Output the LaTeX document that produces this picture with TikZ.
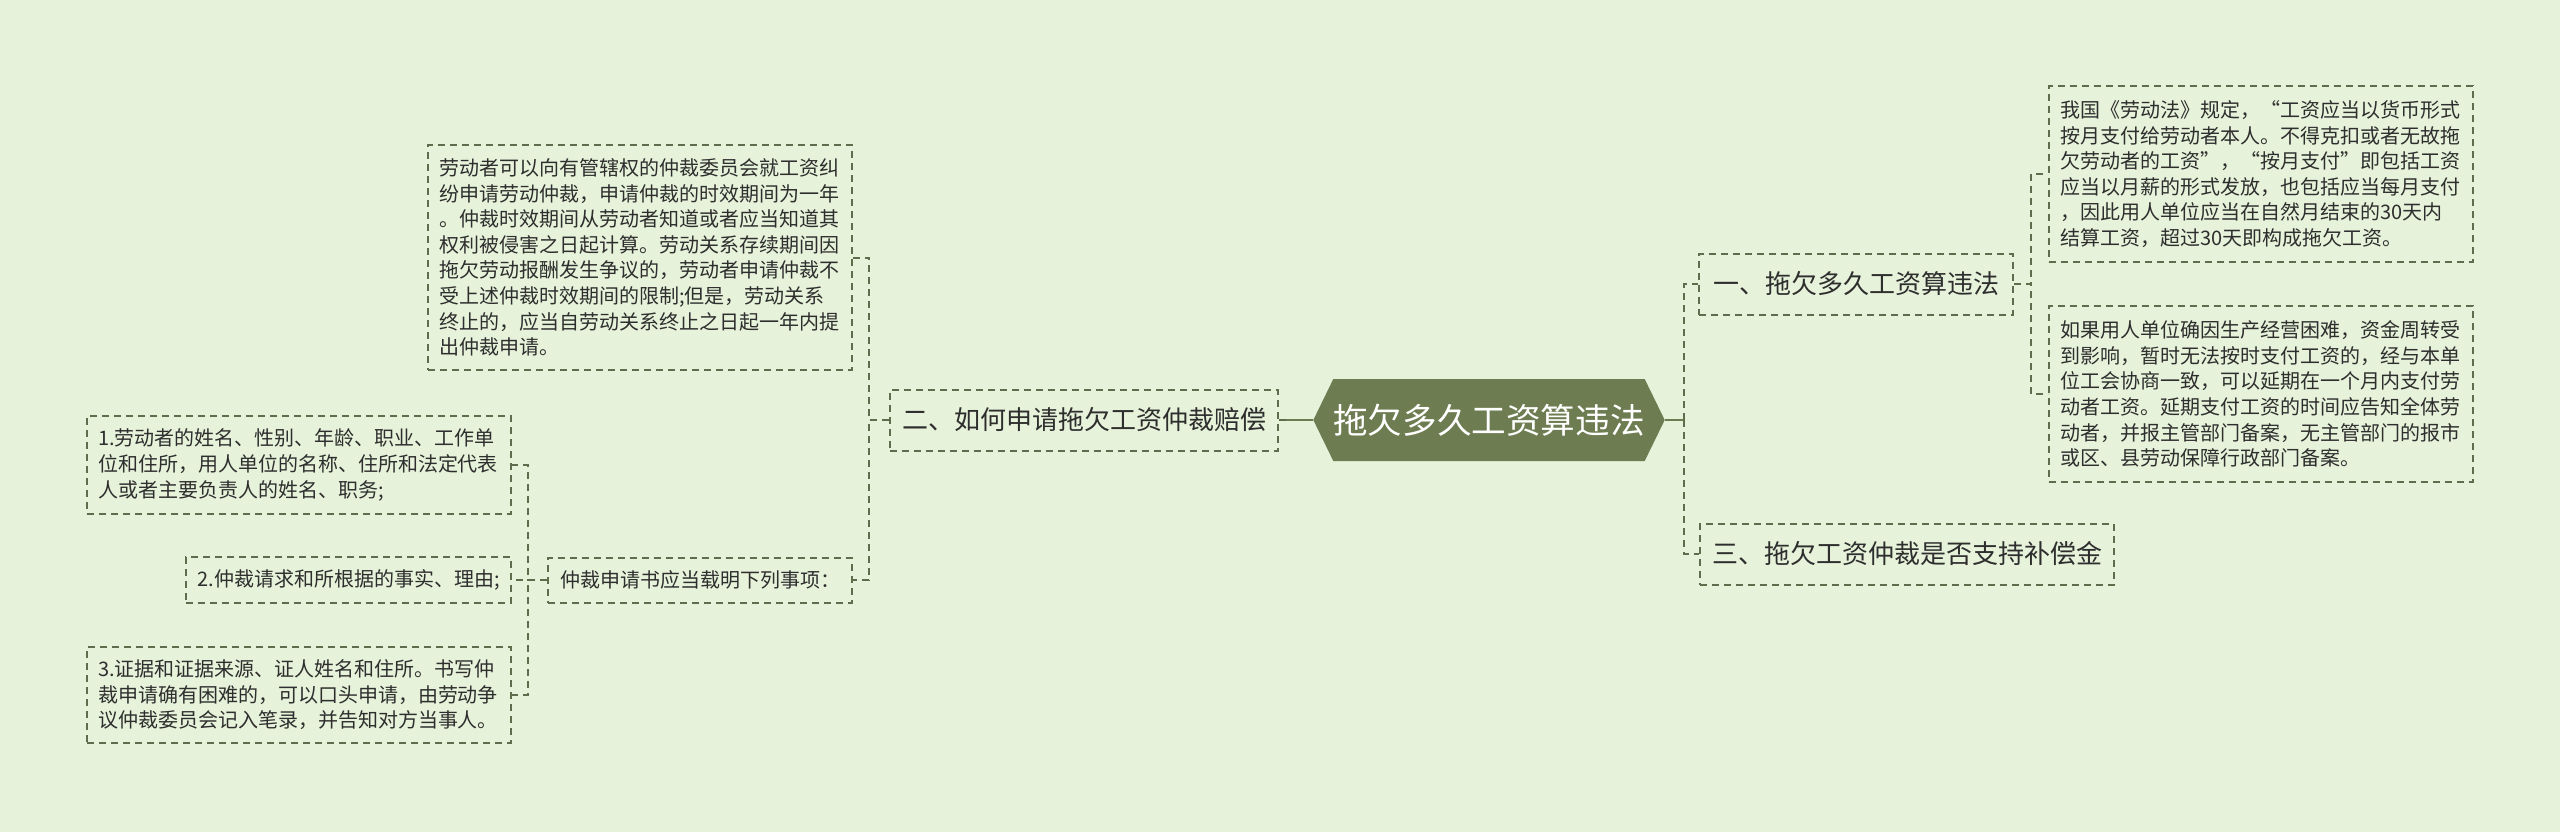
\documentclass[tikz,border=0pt]{standalone}
\usepackage{fontspec}
\setmainfont{Noto Sans CJK SC}
\usetikzlibrary{shapes.symbols}
\definecolor{bgcol}{HTML}{E6F2D9}
\definecolor{hexcol}{HTML}{6E7D51}
\definecolor{linecol}{HTML}{5F6D4C}
\definecolor{txtcol}{HTML}{2E2E2E}
\begin{document}
\begin{tikzpicture}[x=0.5pt,y=-0.5pt,
  leaf/.style={draw=linecol,dash pattern=on 3.5pt off 2.5pt,line width=1pt,text=txtcol,
    font=\fontsize{10pt}{12.8pt}\selectfont,inner xsep=5.5pt,inner ysep=0pt,align=left},
  branch/.style={draw=linecol,dash pattern=on 3.5pt off 2.5pt,line width=1pt,text=txtcol,
    font=\fontsize{13pt}{15pt}\selectfont,inner xsep=6pt,minimum height=30.5pt},
  link/.style={draw=linecol,dash pattern=on 3.5pt off 2.5pt,line width=1pt},
  trunk/.style={draw=hexcol,line width=1.3pt}]
\fill[bgcol] (0,0) rectangle (2560,832);
\useasboundingbox (0,0) rectangle (2560,832);

% centre
\node[signal,signal to=west and east,signal pointer angle=128,fill=hexcol,text=white,
  font=\fontsize{17.3pt}{20pt}\selectfont,minimum width=173pt,minimum height=41pt,inner sep=0pt] (root) at (1489,420) {拖欠多久工资算违法};

% right side
\node[branch,minimum width=157pt] (one) at (1856,284) {一、拖欠多久工资算违法};
\node[branch,minimum width=207pt] (three) at (1907,554) {三、拖欠工资仲裁是否支持补偿金};
\node[leaf,text width=201pt,minimum height=88pt] (law) at (2261,174) {我国《劳动法》规定，“工资应当以货币形式\\按月支付给劳动者本人。不得克扣或者无故拖\\欠劳动者的工资”，“按月支付”即包括工资\\应当以月薪的形式发放，也包括应当每月支付\\，因此用人单位应当在自然月结束的30天内\\结算工资，超过30天即构成拖欠工资。};
\node[leaf,text width=201pt,minimum height=88pt] (delay) at (2261,394) {如果用人单位确因生产经营困难，资金周转受\\到影响，暂时无法按时支付工资的，经与本单\\位工会协商一致，可以延期在一个月内支付劳\\动者工资。延期支付工资的时间应告知全体劳\\动者，并报主管部门备案，无主管部门的报市\\或区、县劳动保障行政部门备案。};

% left side
\node[branch,minimum width=194pt] (two) at (1084,420) {二、如何申请拖欠工资仲裁赔偿};
\node[leaf,text width=201pt,minimum height=112.5pt] (limit) at (640,257.5) {劳动者可以向有管辖权的仲裁委员会就工资纠\\纷申请劳动仲裁，申请仲裁的时效期间为一年\\。仲裁时效期间从劳动者知道或者应当知道其\\权利被侵害之日起计算。劳动关系存续期间因\\拖欠劳动报酬发生争议的，劳动者申请仲裁不\\受上述仲裁时效期间的限制;但是，劳动关系\\终止的，应当自劳动关系终止之日起一年内提\\出仲裁申请。};
\node[leaf,minimum width=152pt,minimum height=22.5pt] (form) at (700,580) {仲裁申请书应当载明下列事项：};
\node[leaf,text width=201pt,minimum height=49pt] (item1) at (299,465) {1.劳动者的姓名、性别、年龄、职业、工作单\\位和住所，用人单位的名称、住所和法定代表\\人或者主要负责人的姓名、职务;};
\node[leaf,minimum width=162.5pt,minimum height=23pt] (item2) at (348.5,580) {2.仲裁请求和所根据的事实、理由;};
\node[leaf,text width=201pt,minimum height=48pt] (item3) at (299,695) {3.证据和证据来源、证人姓名和住所。书写仲\\裁申请确有困难的，可以口头申请，由劳动争\\议仲裁委员会记入笔录，并告知对方当事人。};

% connectors
\draw[trunk] (root.east) -- ++(19,0) coordinate (rj);
\draw[link] (rj) |- (one.west);
\draw[link] (rj) |- (three.west);
\draw[link] (one.east) -- ++(17,0) |- (law.west);
\draw[link] (one.east) -- ++(17,0) |- (delay.west);

\draw[trunk] (root.west) -- ++(-27,0) coordinate (lj);
\draw[link] (lj) -- (two.east);
\draw[link] (two.west) -- ++(-20,0) |- (limit.east);
\draw[link] (two.west) -- ++(-20,0) |- (form.east);
\draw[link] (form.west) -- ++(-19,0) |- (item1.east);
\draw[link] (form.west) -- (item2.east);
\draw[link] (form.west) -- ++(-19,0) |- (item3.east);

\end{tikzpicture}
\end{document}
